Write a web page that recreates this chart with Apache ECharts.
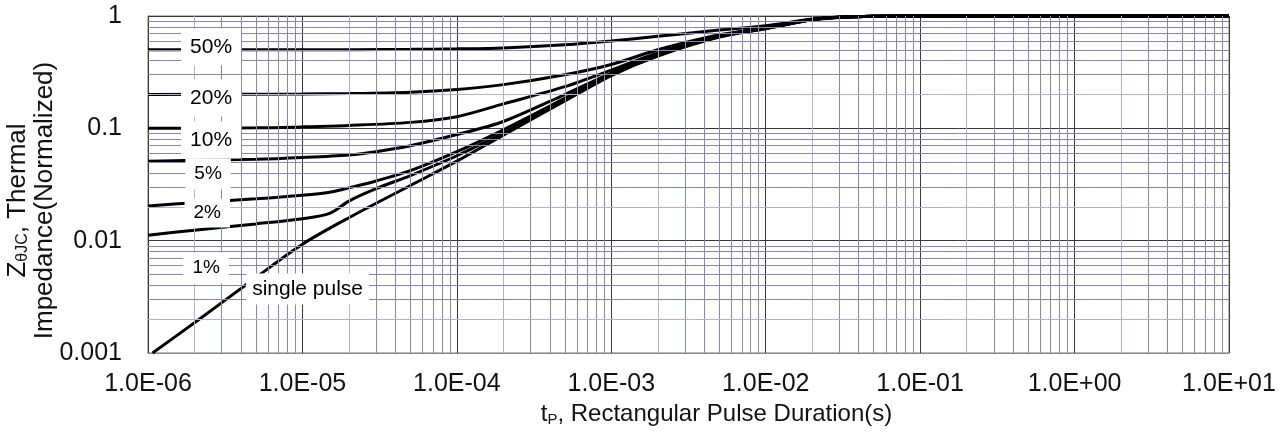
<!DOCTYPE html>
<html>
<head>
<meta charset="utf-8">
<script src="https://cdn.jsdelivr.net/npm/echarts@6/dist/echarts.min.js"></script>
<style>
html,body{margin:0;padding:0;background:#fff;}
#chart{width:1287px;height:432px;}
</style>
</head>
<body>
<div id="chart"></div>
<script>
// ---- data (tp in seconds, Z normalized) ----
const singlePulse = [[1.07e-6,0.001],[2e-6,0.00186],[5e-6,0.0047],[1e-5,0.0093],[2e-5,0.016],[5e-5,0.031],[1e-4,0.051],[2e-4,0.087],[5e-4,0.175],[1e-3,0.295],[2e-3,0.44],[5e-3,0.65],[1e-2,0.77],[2e-2,0.925],[3e-2,0.972],[5e-2,0.995],[1e-1,1],[1,1],[10,1]];
const duty1 = [[1e-6,0.0112],[2e-6,0.0124],[5e-6,0.0141],[1e-5,0.0157],[1.5e-5,0.0175],[2e-5,0.0225],[3e-5,0.029],[5e-5,0.038],[1e-4,0.057],[2e-4,0.091],[5e-4,0.178],[1e-3,0.298],[2e-3,0.445],[5e-3,0.655],[1e-2,0.775],[2e-2,0.927],[3e-2,0.973],[5e-2,0.995],[1e-1,1],[1,1],[10,1]];
const duty2 = [[1e-6,0.0204],[2e-6,0.0218],[5e-6,0.0236],[1e-5,0.0254],[1.5e-5,0.027],[2e-5,0.0295],[3e-5,0.034],[5e-5,0.042],[1e-4,0.062],[2e-4,0.097],[5e-4,0.185],[1e-3,0.303],[2e-3,0.448],[5e-3,0.657],[1e-2,0.777],[2e-2,0.928],[3e-2,0.973],[5e-2,0.995],[1e-1,1],[1,1],[10,1]];
const duty5 = [[1e-6,0.051],[2e-6,0.052],[5e-6,0.053],[1e-5,0.055],[2e-5,0.058],[3e-5,0.062],[5e-5,0.07],[1e-4,0.088],[2e-4,0.115],[5e-4,0.2],[1e-3,0.31],[2e-3,0.455],[5e-3,0.66],[1e-2,0.78],[2e-2,0.93],[3e-2,0.974],[5e-2,0.995],[1e-1,1],[1,1],[10,1]];
const duty10 = [[1e-6,0.1],[5e-6,0.101],[1e-5,0.103],[2e-5,0.106],[5e-5,0.113],[1e-4,0.127],[2e-4,0.165],[5e-4,0.235],[1e-3,0.33],[2e-3,0.468],[5e-3,0.665],[1e-2,0.785],[2e-2,0.932],[3e-2,0.975],[5e-2,0.995],[1e-1,1],[1,1],[10,1]];
const duty20 = [[1e-6,0.2],[1e-5,0.202],[2e-5,0.204],[5e-5,0.21],[1e-4,0.222],[2e-4,0.245],[5e-4,0.3],[1e-3,0.37],[2e-3,0.5],[5e-3,0.68],[1e-2,0.79],[2e-2,0.935],[3e-2,0.976],[5e-2,0.995],[1e-1,1],[1,1],[10,1]];
const duty50 = [[1e-6,0.5],[1e-5,0.5],[5e-5,0.505],[1e-4,0.51],[2e-4,0.52],[5e-4,0.555],[1e-3,0.6],[2e-3,0.66],[5e-3,0.75],[1e-2,0.82],[2e-2,0.94],[3e-2,0.978],[5e-2,0.996],[1e-1,1],[1,1],[10,1]];

const curveNames = ['single pulse','1%','2%','5%','10%','20%','50%'];
const curveData = [singlePulse, duty1, duty2, duty5, duty10, duty20, duty50];

// curve labels
const labelTexts = ['50%','20%','10%','5%','2%','1%','single pulse'];
const labelTp    = [2.56e-6, 2.56e-6, 2.56e-6, 2.45e-6, 2.42e-6, 2.38e-6, 1.08e-5];
const labelZ     = [0.53, 0.186, 0.0787, 0.0392, 0.0176, 0.0057, 0.00371];

const minorMultipliers = [2,3,4,5,6,7,8,9];

// ---- build ----
const FONT = "'Liberation Sans', Arial, sans-serif";
const minorX = [];
for (let e = -6; e < 1; e++) for (const m of minorMultipliers) minorX.push(m * Math.pow(10, e));
const minorY = [];
for (let e = -3; e < 0; e++) for (const m of minorMultipliers) minorY.push(m * Math.pow(10, e));
function minorStyle(v){
  const m = Math.round(v / Math.pow(10, Math.floor(Math.log10(v) + 1e-9)));
  return {color: m === 2 ? '#b2b2ca' : '#8787ab', width: 1, type: 'solid'};
}
const markData = minorX.map(v => ({xAxis: v, lineStyle: minorStyle(v)}))
  .concat(minorY.map(v => ({yAxis: v, lineStyle: minorStyle(v)})));

const series = [{
  type: 'line', data: [], silent: true, z: 1,
  markLine: {silent: true, symbol: 'none', animation: false, precision: 12, label: {show: false}, data: markData}
}];
curveData.forEach((d, i) => {
  series.push({
    name: curveNames[i], type: 'line', data: d, showSymbol: false, symbol: 'none',
    smooth: 0.3, clip: false, z: 3,
    lineStyle: {color: '#000', width: 3}
  });
});
const labelSeries = {
  type: 'scatter', symbolSize: 0, z: 10, silent: true,
  itemStyle: {opacity: 1},
  data: labelTexts.map((t, i) => ({
    name: t, value: [labelTp[i], labelZ[i]],
    label: {fontSize: (i < 3 || i === 6) ? 21 : 19,
      padding: i === 6 ? [5, 6] : (i < 3 ? [8, 9] : (i === 4 ? [5, 9] : [6, 9]))}
  })),
  label: {
    show: true, position: 'inside', formatter: p => p.name,
    fontFamily: FONT, color: '#000', backgroundColor: '#fff', opacity: 1
  },
  labelLayout: {hideOverlap: false}
};
series.push(labelSeries);

const option = {
  animation: false,
  backgroundColor: '#fff',
  grid: {left: 148, right: 58, top: 16, bottom: 79, show: true, borderColor: '#777', borderWidth: 1,
    containLabel: false, outerBoundsMode: 'none'},
  xAxis: {
    type: 'log', logBase: 10, min: 1e-6, max: 10, interval: 1,
    axisLine: {show: true, lineStyle: {color: '#8a8a8a', width: 1}},
    axisTick: {show: false},
    splitLine: {show: true, lineStyle: {color: '#3a3a3a', width: 1}},
    axisLabel: {
      fontFamily: FONT, fontSize: 25, color: '#111', margin: 19,
      formatter: v => {
        const e = Math.round(Math.log10(v));
        return '1.0E' + (e < 0 ? '-' : '+') + String(Math.abs(e)).padStart(2, '0');
      }
    },
    name: 't{sub|P}, Rectangular Pulse Duration(s)',
    nameLocation: 'middle', nameGap: 48, nameMoveOverlap: false,
    nameTextStyle: {fontFamily: FONT, fontSize: 24, color: '#111', padding: [0, 0, 0, 56],
      rich: {sub: {fontFamily: FONT, fontSize: 15, color: '#111', verticalAlign: 'bottom', padding: [11, 0, 0, 0]}}}
  },
  yAxis: {
    type: 'log', logBase: 10, min: 0.001, max: 1, interval: 1,
    axisLine: {show: true, lineStyle: {color: '#333', width: 1}},
    axisTick: {show: false},
    splitLine: {show: true, lineStyle: {color: '#3a3a3a', width: 1}},
    axisLabel: {
      fontFamily: FONT, fontSize: 25, color: '#111', margin: 26,
      formatter: v => {
        const e = Math.round(Math.log10(v));
        return e === 0 ? '1' : Math.pow(10, e).toFixed(-e);
      }
    },
    name: 'Z{sub|θJC}, Thermal\nImpedance(Normalized)',
    nameLocation: 'middle', nameGap: 90, nameMoveOverlap: false,
    nameTextStyle: {fontFamily: FONT, fontSize: 26, color: '#111', lineHeight: 27, padding: [0, 32, 0, 0],
      rich: {sub: {fontFamily: FONT, fontSize: 16, color: '#111', lineHeight: 27, padding: [10, 0, 0, 0]}}}
  },
  series: series
};

const chart = echarts.init(document.getElementById('chart'), null, {renderer: 'canvas'});
chart.setOption(option);
</script>
</body>
</html>
